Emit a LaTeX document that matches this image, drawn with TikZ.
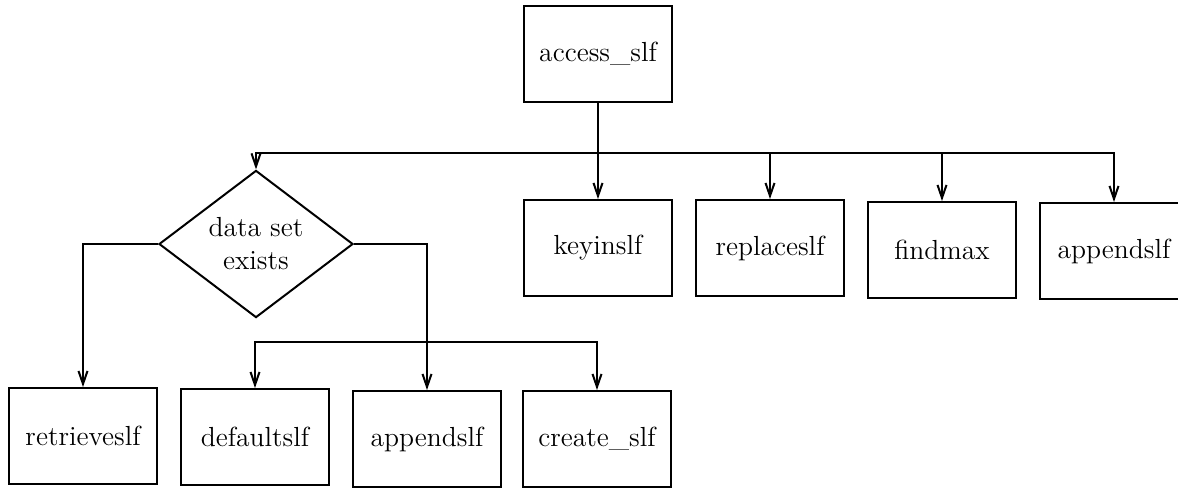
\documentclass[tikz,border=0pt]{standalone}
\usetikzlibrary{shapes.geometric,arrows.meta}
\begin{document}
\begin{tikzpicture}[x=0.5pt,y=-0.5pt,
  every node/.style={font=\fontsize{13.8}{16.5}\selectfont},
  box/.style={draw,line width=1pt,rectangle,minimum width=74pt,minimum height=48pt,inner sep=0pt},
  dec/.style={draw,line width=1pt,diamond,minimum width=97pt,minimum height=71pt,inner sep=0pt,align=center},
  arr/.style={line width=1pt,-{Straight Barb[length=6.5pt,width=4.5pt]}}]
\useasboundingbox (0,0) rectangle (1178,489);
\clip (0,0) rectangle (1178,489);
% top
\node[box] (access) at (598,54) {access\_slf};
\node[box] (keyins) at (598,248) {keyinslf};
\node[box] (replace) at (770,248) {replaceslf};
\node[box] (findmax) at (942,250) {findmax};
\node[box] (appR) at (1114,251) {appendslf};
\node[dec] (dia) at (256,244) {data set\\exists};
% bottom
\node[box] (retrieve) at (83,436) {retrieveslf};
\node[box] (defaults) at (255,437) {defaultslf};
\node[box] (appL) at (427,439) {appendslf};
\node[box] (create) at (597,439) {create\_slf};
% connectors
\coordinate (bus) at (598,153);
\draw[arr] (access.south) -- (keyins.north);
\draw[arr] (bus) -| (dia.north);
\draw[arr] (bus) -| (appR.north);
\draw[arr] (replace.north |- bus) -- (replace.north);
\draw[arr] (findmax.north |- bus) -- (findmax.north);
\draw[arr] (dia.west) -| (retrieve.north);
\draw[arr] (dia.east) -| (appL.north);
\coordinate (lbus) at (427,342);
\draw[arr] (lbus) -| (defaults.north);
\draw[arr] (lbus) -| (create.north);
\end{tikzpicture}
\end{document}
